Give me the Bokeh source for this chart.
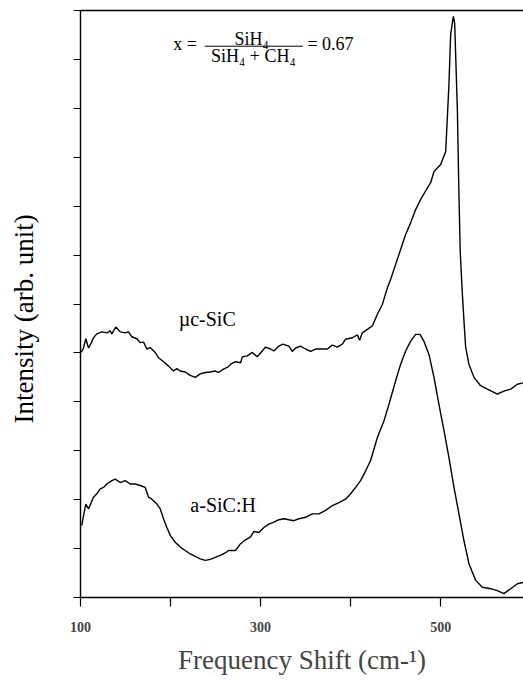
from bokeh.plotting import figure
from bokeh.models import Range1d, FixedTicker, LinearAxis, Label, Title
from bokeh.embed import file_html
from bokeh.resources import INLINE

# ---- data ----
uc_x = [100.8, 103.3, 105.9, 108.9, 111.9, 114.4, 118.1, 123.7, 129.2, 133.0, 134.8, 139.2, 144.1,
        149.7, 153.3, 157.0, 162.6, 166.3, 170.0, 173.7, 177.4, 183.0, 186.7, 192.2, 197.8, 203.3,
        207.0, 210.8, 216.3, 221.9, 227.4, 233.0, 238.6, 244.1, 249.7, 253.3, 258.9, 264.4, 266.7,
        272.2, 277.8, 279.7, 285.2, 290.8, 296.3, 301.9, 305.6, 311.1, 314.8, 320.3, 324.8, 331.4,
        335.2, 338.9, 344.4, 350.0, 355.6, 361.1, 368.6, 374.1, 379.7, 385.2, 390.8, 394.4, 401.9,
        407.4, 410.0, 413.0, 418.6, 424.1, 429.7, 435.2, 440.8, 444.4, 450.0, 455.6, 461.1, 466.7,
        472.2, 477.8, 483.3, 488.9, 492.6, 500.0, 505.6, 509.2, 511.1, 514.1, 515.6, 518.6, 520.0,
        521.7, 523.9, 525.9, 527.8, 531.4, 537.0, 544.4, 551.9, 563.0, 570.3, 577.8, 585.2, 591.9]
uc_y = [5.01, 5.10, 5.29, 5.10, 5.20, 5.31, 5.39, 5.43, 5.41, 5.45, 5.39, 5.53, 5.43,
        5.41, 5.43, 5.33, 5.29, 5.21, 5.22, 5.08, 5.11, 5.01, 4.90, 4.82, 4.73, 4.63,
        4.68, 4.63, 4.61, 4.54, 4.50, 4.57, 4.60, 4.61, 4.63, 4.60, 4.67, 4.72, 4.77,
        4.82, 4.80, 4.92, 4.94, 5.01, 4.92, 5.04, 5.12, 5.08, 5.04, 5.14, 5.18, 5.14,
        5.03, 5.10, 5.14, 5.08, 5.03, 5.08, 5.08, 5.08, 5.16, 5.12, 5.18, 5.28, 5.31,
        5.37, 5.26, 5.41, 5.48, 5.55, 5.79, 5.99, 6.33, 6.50, 6.81, 7.12, 7.42, 7.66,
        7.93, 8.14, 8.31, 8.48, 8.71, 8.85, 9.12, 10.49, 11.51, 11.88, 11.73, 9.94, 8.51,
        7.08, 6.27, 5.65, 5.11, 4.77, 4.50, 4.33, 4.26, 4.16, 4.22, 4.26, 4.36, 4.39]

a_x = [101.4, 103.3, 105.9, 108.9, 111.9, 114.4, 118.1, 121.9, 125.6, 129.2, 134.8, 138.6, 144.1,
       149.7, 155.2, 160.8, 166.3, 171.9, 175.6, 179.2, 184.8, 188.6, 192.2, 195.9, 199.7, 205.2,
       210.8, 216.3, 221.9, 227.4, 233.0, 238.6, 244.1, 249.7, 255.2, 260.8, 264.4, 266.7, 272.2,
       277.8, 283.3, 288.9, 292.6, 298.1, 303.7, 309.2, 314.8, 320.3, 325.9, 331.4, 337.0, 342.6,
       350.0, 357.4, 364.8, 372.2, 379.7, 387.0, 394.4, 400.0, 405.6, 411.1, 416.7, 422.2, 429.7,
       437.0, 442.6, 450.0, 455.6, 461.1, 466.7, 472.2, 477.0, 481.4, 487.0, 492.6, 498.1, 503.7,
       509.2, 514.8, 520.3, 525.9, 531.4, 538.9, 546.3, 555.6, 563.0, 570.3, 577.8, 585.2, 591.9]
a_y = [1.47, 1.67, 1.91, 1.81, 1.94, 2.05, 2.12, 2.22, 2.25, 2.32, 2.39, 2.42, 2.35,
       2.39, 2.32, 2.32, 2.29, 2.25, 2.05, 2.01, 1.91, 1.81, 1.61, 1.43, 1.27, 1.13,
       1.03, 0.96, 0.89, 0.84, 0.79, 0.76, 0.78, 0.82, 0.86, 0.91, 0.96, 0.96, 0.96,
       1.10, 1.18, 1.24, 1.35, 1.33, 1.43, 1.50, 1.54, 1.59, 1.61, 1.59, 1.57, 1.61,
       1.64, 1.71, 1.71, 1.78, 1.88, 1.94, 2.01, 2.12, 2.25, 2.39, 2.59, 2.80, 3.27,
       3.61, 3.95, 4.43, 4.77, 5.04, 5.24, 5.38, 5.38, 5.24, 4.97, 4.50, 3.95, 3.41,
       2.86, 2.25, 1.71, 1.16, 0.69, 0.35, 0.21, 0.18, 0.14, 0.08, 0.18, 0.28, 0.31]

x_major = [100, 300, 500]
x_minor = [200, 400]
y_ticks = list(range(0, 13))

SERIF = "Liberation Serif"

p = figure(width=523, height=684, output_backend="svg", toolbar_location=None,
           x_range=Range1d(100, 592), y_range=Range1d(0, 12),
           min_border_left=80, min_border_right=0, min_border_top=10, min_border_bottom=87,
           background_fill_color="white", border_fill_color="white")
p.outline_line_color = None
p.grid.visible = False

p.line(uc_x, uc_y, line_color="black", line_width=1.4)
p.line(a_x, a_y, line_color="black", line_width=1.4)

# x axis
xa = p.xaxis[0]
xa.ticker = FixedTicker(ticks=x_major, minor_ticks=x_minor)
xa.major_tick_out = 9
xa.major_tick_in = 0
xa.minor_tick_out = 9
xa.minor_tick_in = 0
xa.axis_line_width = 1.6
xa.major_tick_line_width = 1.2
xa.minor_tick_line_width = 1.2
xa.major_label_text_font = SERIF
xa.major_label_text_font_size = "14px"
xa.major_label_text_font_style = "bold"
xa.major_label_standoff = 15
xa.axis_label = "Frequency Shift (cm-\u00b9)"
xa.axis_label_text_font = SERIF
xa.axis_label_text_font_size = "27px"
xa.axis_label_text_font_style = "normal"
xa.axis_label_standoff = 10

# y axis: ticks only, no labels
ya = p.yaxis[0]
ya.ticker = FixedTicker(ticks=[], minor_ticks=y_ticks)
ya.minor_tick_out = 7
ya.minor_tick_in = 0
ya.minor_tick_line_width = 1.2
ya.axis_line_width = 1.4

# top border line
top = LinearAxis(ticker=FixedTicker(ticks=[]), major_tick_line_color=None,
                 minor_tick_line_color=None, axis_line_width=1.6)
p.add_layout(top, "above")

# y axis title (second, empty line pushes the visible line further left)
ytitle = Title(text="Intensity (arb. unit)\n ", align="left", offset=174,
               text_font=SERIF, text_font_size="27px", text_font_style="normal",
               text_color="black", vertical_align="middle", standoff=8)
p.add_layout(ytitle, "left")

# curve labels
p.add_layout(Label(x=209, y=5.69, text="\u00b5c-SiC", text_align="left", text_baseline="middle",
                   text_font=SERIF, text_font_size="20px", text_color="black"))
p.add_layout(Label(x=222, y=1.90, text="a-SiC:H", text_align="left", text_baseline="middle",
                   text_font=SERIF, text_font_size="20px", text_color="black"))

# composition formula
FS = "18px"
p.add_layout(Label(x=203, y=11.31, text="x =", text_align="left", text_baseline="middle",
                   text_font=SERIF, text_font_size=FS, text_color="black"))
p.add_layout(Label(x=290, y=11.41, text="SiH\u2084", text_align="center", text_baseline="middle",
                   text_font=SERIF, text_font_size=FS, text_color="black"))
p.segment(x0=[238], y0=[11.27], x1=[347], y1=[11.27], line_color="black", line_width=1)
p.add_layout(Label(x=292, y=11.08, text="SiH\u2084 + CH\u2084", text_align="center", text_baseline="middle",
                   text_font=SERIF, text_font_size=FS, text_color="black"))
p.add_layout(Label(x=352, y=11.31, text="= 0.67", text_align="left", text_baseline="middle",
                   text_font=SERIF, text_font_size=FS, text_color="black"))

open("out.html", "w").write(file_html(p, INLINE))
